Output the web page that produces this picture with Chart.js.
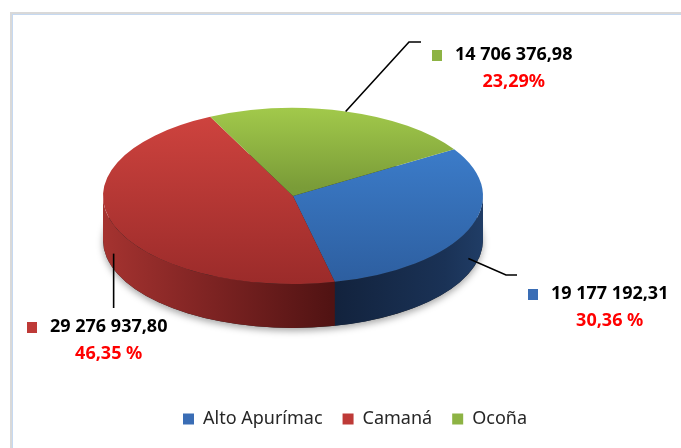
<!DOCTYPE html>
<html><head><meta charset="utf-8">
<script src="https://cdn.jsdelivr.net/npm/chart.js@4.4.1/dist/chart.umd.min.js"></script>
<style>
html,body{margin:0;padding:0;background:#fff;overflow:hidden;}
#wrap{position:relative;width:681px;height:448px;overflow:hidden;}
#frame{position:absolute;left:10px;top:12px;width:720px;height:480px;border-left:2px solid #D9D9D9;border-top:2px solid #D9D9D9;box-shadow:inset 1px 1px 0 #C6D9F1;}
canvas{position:absolute;left:0;top:0;}
</style></head>
<body><div id="wrap"><div id="frame"></div><canvas id="c" width="681" height="448"></canvas></div>
<script>
// ---- data ----
const categories = ['Alto Apurímac', 'Camaná', 'Ocoña'];
const values = [19177192.31, 29276937.80, 14706376.98];
const percentLabels = ['30,36 %', '46,35 %', '23,29%'];

// ---- styles / layout ----
const legendColors = ['#3A6DB5', '#BE3A37', '#8DB344'];
const topStops = [
  [[0, '#4489D8'], [0.25, '#3B7BC8'], [1, '#2D5E9F']],
  [[0, '#D0443F'], [1, '#9B2B2A']],
  [[0, '#A2C94B'], [0.45, '#7A9C38'], [1, '#6E8E30']]
];
const sideStops = [
  [[0, '#12223C'], [0.6, '#12223C'], [0.9, '#1A3256'], [1, '#203D66']],
  [[0, '#A53330'], [0.25, '#822524'], [0.6, '#511313'], [1, '#4A1111']],
  [[0, '#5F7A2A'], [1, '#4A6020']]
];
const tilt = 88 / 190;
const depth = 44;
const pieShiftX = -62;
const labelLayout = [
  {x: 528, y: 294, elbow: [506, 275], end: [517, 275]},
  {x: 27, y: 327, elbow: null, endY: 308},
  {x: 432, y: 55, elbow: [409, 42], end: [421, 42]}
];

const fmt = v => {
  const [i, d] = v.toFixed(2).split('.');
  return i.replace(/\B(?=(\d{3})+(?!\d))/g, ' ') + ',' + d;
};

function topColor(c) {
  const chart = c.chart, area = chart.chartArea;
  if (!area) return legendColors[c.dataIndex];
  const cy = (area.top + area.bottom) / 2, R = 190;
  const g = chart.ctx.createLinearGradient(0, cy - R, 0, cy + R);
  topStops[c.dataIndex].forEach(s => g.addColorStop(s[0], s[1]));
  return g;
}

let transformed = false;
const tiltPlugin = {
  id: 'tilt3d',
  beforeDatasetsDraw(chart) {
    const ctx = chart.ctx;
    const els = chart.getDatasetMeta(0).data;
    if (!els.length) return;
    const {x: cx, y: cy, outerRadius: R} = els[0];
    const tx = cx + pieShiftX, ty = cy, rx = R, ry = R * tilt;
    // shadow under the pie
    ctx.save();
    ctx.shadowColor = 'rgba(0,0,0,0.35)';
    ctx.shadowBlur = 7; ctx.shadowOffsetY = 3;
    ctx.fillStyle = '#222';
    ctx.beginPath();
    ctx.ellipse(tx, ty + depth, rx, ry, 0, 0, Math.PI * 2);
    ctx.fill();
    ctx.restore();
    // side walls
    els.forEach((el, i) => {
      const s = el.startAngle, e = el.endAngle;
      for (let k = -2; k <= 2; k++) {
        const lo = Math.max(s, 2 * Math.PI * k), hi = Math.min(e, 2 * Math.PI * k + Math.PI);
        if (hi > lo) {
          const g = ctx.createLinearGradient(tx - rx, 0, tx + rx, 0);
          sideStops[i].forEach(st => g.addColorStop(st[0], st[1]));
          ctx.beginPath();
          ctx.ellipse(tx, ty, rx, ry, 0, lo, hi);
          ctx.ellipse(tx, ty + depth, rx, ry, 0, hi, lo, true);
          ctx.closePath();
          ctx.fillStyle = g;
          ctx.fill();
        }
      }
    });
    ctx.save();
    ctx.translate(tx, ty);
    ctx.scale(1, tilt);
    ctx.translate(-cx, -cy);
    transformed = true;
  },
  afterDatasetsDraw(chart) {
    if (transformed) { chart.ctx.restore(); transformed = false; }
  },
  afterDraw(chart) {
    const ctx = chart.ctx;
    const els = chart.getDatasetMeta(0).data;
    if (!els.length) return;
    const {x: cx, y: cy, outerRadius: R} = els[0];
    const tx = cx + pieShiftX;
    els.forEach((el, i) => {
      const mid = (el.startAngle + el.endAngle) / 2;
      const sn = Math.sin(mid);
      const px = tx + R * Math.cos(mid);
      const py = cy + R * tilt * sn + (sn > 0 ? depth * 0.65 : 0);
      const L = labelLayout[i];
      ctx.save();
      ctx.strokeStyle = '#000';
      ctx.lineWidth = 1.6;
      ctx.beginPath();
      ctx.moveTo(px, py);
      if (L.elbow) { ctx.lineTo(L.elbow[0], L.elbow[1]); ctx.lineTo(L.end[0], L.end[1]); }
      else { ctx.lineTo(px, L.endY); }
      ctx.stroke();
      ctx.fillStyle = legendColors[i];
      ctx.fillRect(L.x, L.y - 5, 10, 11);
      ctx.font = 'bold 18px "Noto Sans"';
      ctx.textBaseline = 'middle';
      ctx.textAlign = 'left';
      ctx.fillStyle = '#000';
      const txt = fmt(values[i]);
      const w = ctx.measureText(txt).width;
      ctx.fillText(txt, L.x + 23, L.y);
      ctx.fillStyle = '#FF0000';
      ctx.textAlign = 'center';
      ctx.fillText(percentLabels[i], L.x + 23 + w / 2, L.y + 27);
      ctx.restore();
    });
  }
};

new Chart(document.getElementById('c'), {
  type: 'pie',
  data: {
    labels: categories,
    datasets: [{
      data: values,
      backgroundColor: topColor,
      borderWidth: 0,
      radius: 190,
      clip: false
    }]
  },
  options: {
    responsive: false,
    animation: false,
    events: [],
    rotation: 58,
    layout: {padding: {left: 29, right: 0, top: 2, bottom: 10}},
    plugins: {
      tooltip: {enabled: false},
      legend: {
        position: 'bottom',
        labels: {
          font: {family: '"Noto Sans"', size: 18},
          color: '#262626',
          boxWidth: 11,
          boxHeight: 11,
          padding: 20,
          generateLabels: () => categories.map((t, i) => ({
            text: t, fillStyle: legendColors[i], strokeStyle: legendColors[i],
            lineWidth: 0, hidden: false, index: i, fontColor: '#262626'
          }))
        }
      }
    }
  },
  plugins: [tiltPlugin]
});
</script>
</body></html>
